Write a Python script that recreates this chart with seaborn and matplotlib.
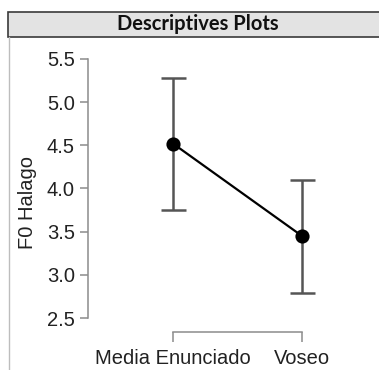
import numpy as np
import pandas as pd
import seaborn as sns
import matplotlib.pyplot as plt
from matplotlib.patches import Rectangle
from matplotlib.lines import Line2D

# valores
grupos = ['Media Enunciado', 'Voseo']
medias = [4.52, 3.45]
ic_inf = [3.75, 2.79]
ic_sup = [5.28, 4.10]
ticks_y = [2.5, 3.0, 3.5, 4.0, 4.5, 5.0, 5.5]

df = pd.DataFrame({'grupo': grupos, 'F0': medias})

sns.set_style('white')
plt.rcParams['font.family'] = ['Liberation Sans', 'DejaVu Sans']

fig = plt.figure(figsize=(3.79, 3.70), dpi=100)
ax = fig.add_axes([88 / 379, 38 / 370, 282 / 379, 282 / 370])

# barras de error (IC 95%)
pos = np.arange(len(grupos))
err = [np.array(medias) - np.array(ic_inf), np.array(ic_sup) - np.array(medias)]
ax.errorbar(pos, medias, yerr=err, fmt='none', ecolor='#555555', elinewidth=1.8,
            capsize=9, capthick=1.8, zorder=1)

sns.pointplot(data=df, x='grupo', y='F0', color='black', errorbar=None,
              markersize=9, linewidth=1.6, ax=ax, zorder=3)

ax.set_xlim(-0.659, 1.527)
ax.set_ylim(2.338, 5.604)
ax.set_yticks(ticks_y)
ax.set_yticklabels([f'{t:.1f}' for t in ticks_y])
ax.set_xlabel('')
ax.set_ylabel('F0 Halago', fontsize=14.5, color='#222222')
ax.yaxis.set_label_coords(-0.18, 0.46)

for lado in ['top', 'right']:
    ax.spines[lado].set_visible(False)
ax.spines['left'].set_bounds(2.5, 5.5)
ax.spines['bottom'].set_bounds(0, 1)
for lado in ['left', 'bottom']:
    ax.spines[lado].set_color('#8c8c8c')
    ax.spines[lado].set_linewidth(1.1)
ax.tick_params(axis='both', direction='out', length=5.5, width=1.1, color='#8c8c8c',
               labelsize=14.5, labelcolor='#222222', pad=4, left=True, bottom=True)
ax.tick_params(axis='x', length=7, pad=5)

# cabecera tipo JASP
fig.patches.append(Rectangle((8 / 379, 1 - 37 / 370), 1.2, 25 / 370, transform=fig.transFigure,
                             facecolor='#e3e3e3', edgecolor='#3a3a3a', linewidth=1.2, zorder=0))
fig.lines.append(Line2D([8.5 / 379, 8.5 / 379], [0, 1 - 37 / 370], transform=fig.transFigure,
                        color='#bdbdbd', linewidth=1.0))
fig.text(198 / 379, 1 - 24.5 / 370, 'Descriptives Plots', ha='center', va='center',
         fontsize=14.5, fontweight='bold', family=['Lato', 'DejaVu Sans'], color='#111111')

fig.savefig('out.png', dpi=100)
